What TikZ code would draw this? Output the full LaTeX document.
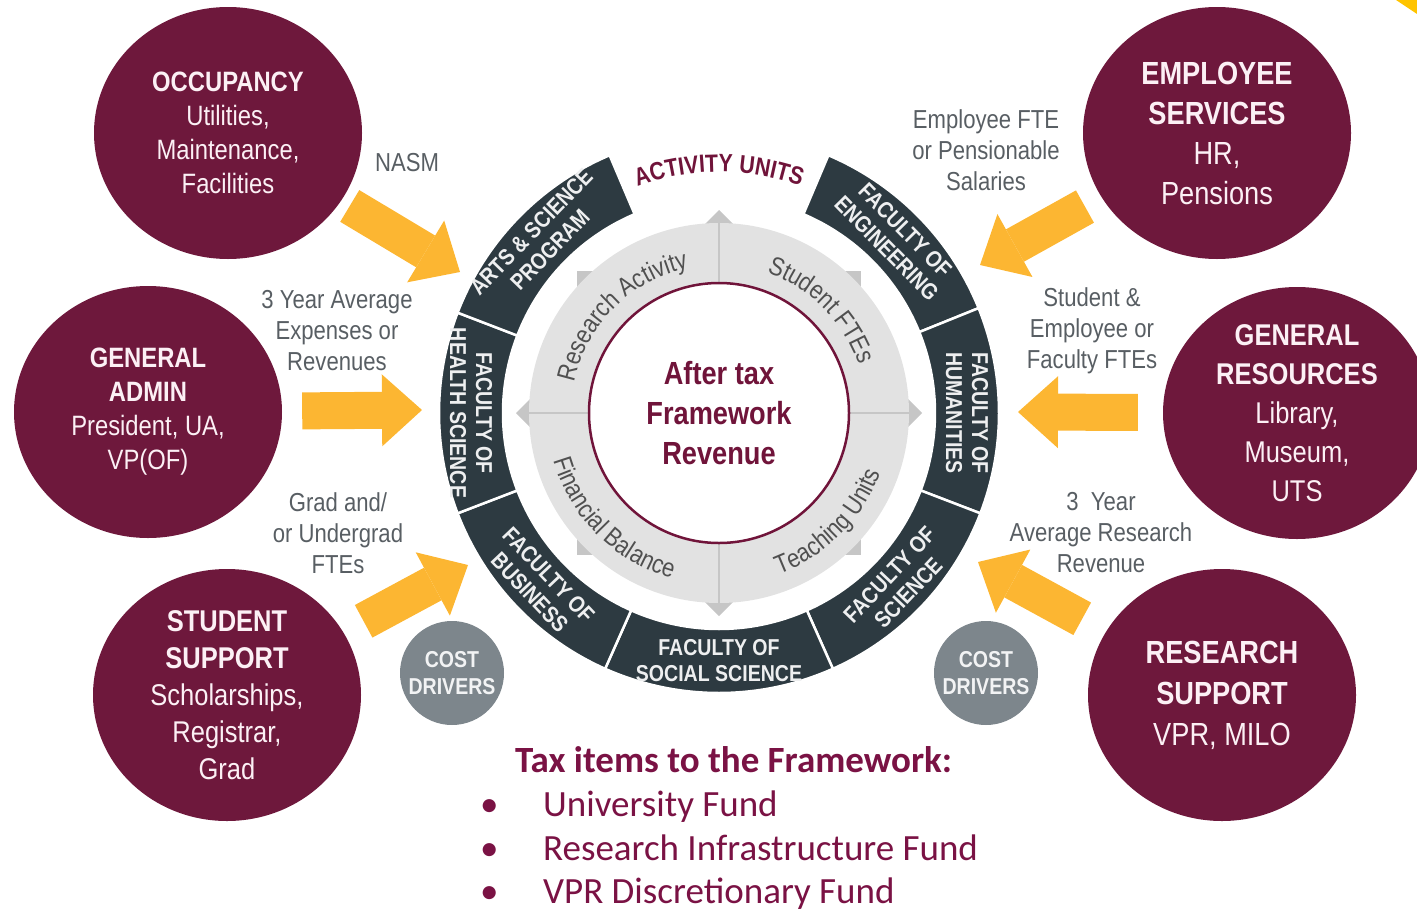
\documentclass[tikz,border=0pt]{standalone}
\usepackage{fontspec}
\setmainfont{Liberation Sans}
\newfontfamily\condfont[FakeStretch=0.85]{Liberation Sans}
\newfontfamily\calibrifont{Carlito}
\usepackage{xcolor}
\usepackage{tikz}
\usetikzlibrary{shapes.geometric,arrows.meta,decorations.text}

\definecolor{unitmaroon}{RGB}{110,24,60}
\definecolor{textmaroon}{RGB}{112,20,58}
\definecolor{fundmaroon}{RGB}{122,18,68}
\definecolor{ringdark}{RGB}{45,58,65}
\definecolor{flowyellow}{RGB}{252,182,50}
\definecolor{labelgray}{RGB}{88,94,99}
\definecolor{drivergray}{RGB}{125,134,140}
\definecolor{discgray}{RGB}{226,226,226}
\definecolor{markgray}{RGB}{198,198,198}
\definecolor{quadgray}{RGB}{80,80,80}
\definecolor{pinkwhite}{RGB}{252,240,245}
\definecolor{cornergold}{RGB}{255,196,0}

\tikzset{
  unit/.style={ellipse, fill=unitmaroon, text=pinkwhite, minimum width=268pt, minimum height=252pt, align=center, inner sep=0pt},
  driver/.style={circle, fill=drivergray, text=white!90!drivergray, minimum size=104pt, inner sep=0pt, align=center, font=\condfont\bfseries\fontsize{23}{27}\selectfont},
  flow/.style={line width=37pt, flowyellow, -{Triangle[length=40pt, width=72pt, line width=0pt]}},
  cost/.style={text=labelgray, align=center, inner sep=0pt, font=\condfont\fontsize{26}{31}\selectfont},
  faculty/.style={text=white!92!ringdark, align=center, inner sep=0pt, font=\condfont\bfseries\fontsize{23}{26}\selectfont},
  fund/.style={anchor=base west, inner sep=0pt, text=fundmaroon, font=\calibrifont\fontsize{37}{40}\selectfont},
}

\begin{document}
\begin{tikzpicture}[x=1pt, y=-1pt]
    \useasboundingbox (0,0) rectangle (1417,911);
    \fill[cornergold] (1396,0) -- (1417,0) -- (1417,14) -- cycle;

    % activity wheel
    \begin{scope}[shift={(719,413)}, x=1pt, y=1pt]
        \foreach \a/\b in {22/67, -21/22, -66/-21, -114/-66, -159/-114, 159/201, 113/159}
            \filldraw[fill=ringdark, draw=white, line width=2.5pt] (\a:216) arc[start angle=\a, end angle=\b, radius=216] -- (\b:280) arc[start angle=\b, end angle=\a, radius=280] -- cycle;

        \foreach \ang/\rot/\fac/\txt in {44.5/-45.5/Engineering/{FACULTY OF\\ENGINEERING},
                0/-90/Humanities/{FACULTY OF\\HUMANITIES},
                -43.5/46.5/Science/{FACULTY OF\\SCIENCE},
                -90/0/Social-Science/{FACULTY OF\\SOCIAL SCIENCE},
                -136.5/-46.5/Business/{FACULTY OF\\BUSINESS},
                180/-90/Health-Science/{FACULTY OF\\HEALTH SCIENCE},
                136/46/Arts-Science/{ARTS \& SCIENCE\\PROGRAM}}
            \node[faculty, rotate=\rot] (\fac) at (\ang:248) {\txt};

        \fill[markgray] (-142,-142) rectangle (142,142);
        \fill[markgray] (0,203) -- (203,0) -- (0,-203) -- (-203,0) -- cycle;
        \fill[discgray] (0,0) circle (190);
        \draw[markgray, line width=2pt] (0,-200) -- (0,200) (-200,0) -- (200,0);

        \node[circle, fill=white, draw=textmaroon, line width=2.5pt, minimum size=260pt, inner sep=0pt, align=center, text=textmaroon, font=\condfont\bfseries\fontsize{32}{40}\selectfont] (Revenue) at (0,0) {After tax\\Framework\\Revenue};

        \path[decorate, decoration={text along path, text align=center, text={|\condfont\fontsize{26}{26}\selectfont\color{quadgray}|Research Activity}}] (178:148) arc[start angle=178, end angle=92, radius=148];
        \path[decorate, decoration={text along path, text align=center, text={|\condfont\fontsize{26}{26}\selectfont\color{quadgray}|Student FTEs}}] (88:148) arc[start angle=88, end angle=2, radius=148];
        \path[decorate, decoration={text along path, text align=center, text={|\condfont\fontsize{26}{26}\selectfont\color{quadgray}|Financial Balance}}] (182:172) arc[start angle=182, end angle=268, radius=172];
        \path[decorate, decoration={text along path, text align=center, text={|\condfont\fontsize{26}{26}\selectfont\color{quadgray}|Teaching Units}}] (272:172) arc[start angle=272, end angle=358, radius=172];
        \path[decorate, decoration={text along path, text align=center, text={|\condfont\bfseries\fontsize{25}{25}\selectfont\color{textmaroon}|ACTIVITY UNITS}}] (120:241) arc[start angle=120, end angle=60, radius=241];
    \end{scope}

    \node[unit, font=\condfont\fontsize{28}{34}\selectfont] (Occupancy) at (228,133) {\textbf{OCCUPANCY}\\Utilities,\\Maintenance,\\Facilities};
    \node[unit, font=\condfont\fontsize{28}{34}\selectfont] (General-Admin) at (148,412) {\textbf{GENERAL}\\\textbf{ADMIN}\\President, UA,\\VP(OF)};
    \node[unit, font=\condfont\fontsize{30}{37}\selectfont] (Student-Support) at (227,695) {\textbf{STUDENT}\\\textbf{SUPPORT}\\Scholarships,\\Registrar,\\Grad};
    \node[unit, font=\condfont\fontsize{32}{40}\selectfont] (Employee-Services) at (1217,133) {\textbf{EMPLOYEE}\\\textbf{SERVICES}\\HR,\\Pensions};
    \node[unit, font=\condfont\fontsize{30}{39}\selectfont] (General-Resources) at (1297,413) {\textbf{GENERAL}\\\textbf{RESOURCES}\\Library,\\Museum,\\UTS};
    \node[unit, font=\condfont\fontsize{32}{41}\selectfont] (Research-Support) at (1222,695) {\textbf{RESEARCH}\\\textbf{SUPPORT}\\VPR, MILO};

    \node[driver] (Cost-Drivers-1) at (452,673) {COST\\DRIVERS};
    \node[driver] (Cost-Drivers-2) at (986,673) {COST\\DRIVERS};

    \coordinate (Occupancy-in) at (460,272);
    \coordinate (General-Admin-in) at (422,410);
    \coordinate (Student-Support-in) at (468,565);
    \coordinate (Employee-Services-in) at (980,265);
    \coordinate (General-Resources-in) at (1018,412);
    \coordinate (Research-Support-in) at (978,562);

    \draw[flow, shorten <=10pt] (Occupancy) -- (Occupancy-in);
    \draw[flow, shorten <=20pt] (General-Admin) -- (General-Admin-in);
    \draw[flow, shorten <=23pt] (Student-Support) -- (Student-Support-in);
    \draw[flow, shorten <=19pt] (Employee-Services) -- (Employee-Services-in);
    \draw[flow, shorten <=25pt] (General-Resources) -- (General-Resources-in);
    \draw[flow, shorten <=27pt] (Research-Support) -- (Research-Support-in);

    \node[cost] (NASM) at (407,163) {NASM};
    \node[cost] (Avg-Expenses) at (337,331) {3 Year Average\\Expenses or\\Revenues};
    \node[cost] (Grad-FTEs) at (338,533) {Grad and/\\or Undergrad\\FTEs};
    \node[cost] (Employee-FTE) at (986,150) {Employee FTE\\or Pensionable\\Salaries};
    \node[cost] (Faculty-FTEs) at (1092,331) {Student \&\\Employee or\\Faculty FTEs};
    \node[cost] (Avg-Research) at (1101,533) {3~ Year\\Average Research\\Revenue};

    \node[fund, font=\calibrifont\bfseries\fontsize{37}{40}\selectfont] (Tax-Items) at (515,772) {Tax items to the Framework:};
    \node[fund] (University-Fund) at (480,816) {\makebox[63pt][l]{•}University Fund};
    \node[fund] (Infrastructure-Fund) at (480,860) {\makebox[63pt][l]{•}Research Infrastructure Fund};
    \node[fund] (Discretionary-Fund) at (480,903) {\makebox[63pt][l]{•}VPR Discretionary Fund};
\end{tikzpicture}
\end{document}
